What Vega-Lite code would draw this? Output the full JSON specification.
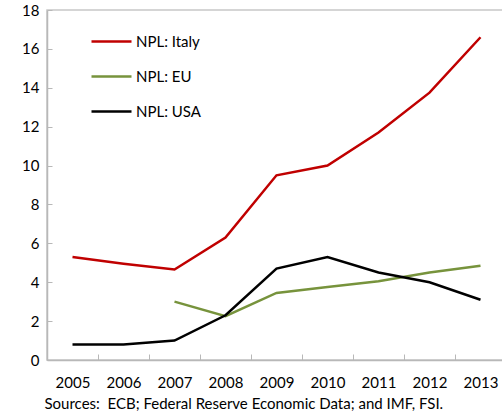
{
  "$schema": "https://vega.github.io/schema/vega-lite/v6.json",
  "width": 459,
  "height": 350,
  "autosize": "none",
  "padding": {"left": 47, "top": 10, "right": 0, "bottom": 54},
  "config": {
    "view": {"stroke": "#c8c8c8", "strokeWidth": 1.5},
    "font": "Lato",
    "axis": {"labelFont": "Lato", "titleFont": "Lato", "labelFontSize": 15, "labelColor": "#000", "domainColor": "#b8b8b8", "tickColor": "#b8b8b8", "domainWidth": 1.5, "grid": false}
  },
  "data": {"values": [
    {"year": "2005", "series": "NPL: Italy", "v": 5.3},
    {"year": "2006", "series": "NPL: Italy", "v": 4.95},
    {"year": "2007", "series": "NPL: Italy", "v": 4.65},
    {"year": "2008", "series": "NPL: Italy", "v": 6.3},
    {"year": "2009", "series": "NPL: Italy", "v": 9.5},
    {"year": "2010", "series": "NPL: Italy", "v": 10.0},
    {"year": "2011", "series": "NPL: Italy", "v": 11.7},
    {"year": "2012", "series": "NPL: Italy", "v": 13.75},
    {"year": "2013", "series": "NPL: Italy", "v": 16.6},
    {"year": "2007", "series": "NPL: EU", "v": 3.0},
    {"year": "2008", "series": "NPL: EU", "v": 2.25},
    {"year": "2009", "series": "NPL: EU", "v": 3.45},
    {"year": "2010", "series": "NPL: EU", "v": 3.75},
    {"year": "2011", "series": "NPL: EU", "v": 4.05},
    {"year": "2012", "series": "NPL: EU", "v": 4.5},
    {"year": "2013", "series": "NPL: EU", "v": 4.85},
    {"year": "2005", "series": "NPL: USA", "v": 0.8},
    {"year": "2006", "series": "NPL: USA", "v": 0.8},
    {"year": "2007", "series": "NPL: USA", "v": 1.0},
    {"year": "2008", "series": "NPL: USA", "v": 2.3},
    {"year": "2009", "series": "NPL: USA", "v": 4.7},
    {"year": "2010", "series": "NPL: USA", "v": 5.3},
    {"year": "2011", "series": "NPL: USA", "v": 4.5},
    {"year": "2012", "series": "NPL: USA", "v": 4.0},
    {"year": "2013", "series": "NPL: USA", "v": 3.1}
  ]},
  "mark": {"type": "line", "strokeWidth": 2.5},
  "encoding": {
    "x": {
      "field": "year", "type": "ordinal",
      "scale": {"paddingInner": 0, "paddingOuter": 0},
      "axis": {"labelAngle": 0, "tickBand": "extent", "tickSize": -6, "labelPadding": 21, "title": "Sources:\u00a0 ECB; Federal Reserve Economic Data; and IMF, FSI.", "titleFontSize": 15, "titleFontWeight": "normal", "titlePadding": 6, "titleAnchor": "start", "titleX": -3}
    },
    "y": {
      "field": "v", "type": "quantitative",
      "scale": {"domain": [0, 18]},
      "axis": {"values": [0, 2, 4, 6, 8, 10, 12, 14, 16, 18], "tickSize": -5, "labelPadding": 13, "title": null}
    },
    "color": {
      "field": "series", "type": "nominal",
      "scale": {"domain": ["NPL: Italy", "NPL: EU", "NPL: USA"], "range": ["#C00000", "#77933C", "#000000"]},
      "legend": {"title": null, "orient": "none", "legendX": 43, "legendY": 10, "symbolType": "stroke", "symbolSize": 1600, "symbolStrokeWidth": 2.5, "labelFontSize": 15, "labelFont": "Lato", "labelOffset": 3, "rowPadding": 5}
    }
  }
}
